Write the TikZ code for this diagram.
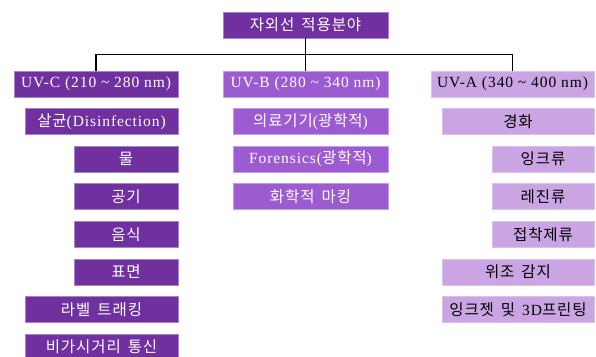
\documentclass[tikz,border=0pt]{standalone}
\usepackage{fontspec}
\setmainfont[LetterSpace=6]{Liberation Serif}
\newfontfamily\krfont[LetterSpace=6]{Noto Sans CJK KR}
\newcommand\K[1]{{\krfont\fontsize{15.5}{17}\selectfont\spaceskip=0.45em\relax #1}}
\definecolor{uvcdark}{HTML}{7030A0}
\definecolor{uvbmid}{HTML}{9D5BD2}
\definecolor{uvalight}{HTML}{CBA4E4}
\begin{document}
\begin{tikzpicture}[x=1pt,y=-1pt,
  box/.style={rectangle, inner sep=0pt, minimum height=26pt, line width=0.6pt,
    font=\fontsize{15.5}{17}\selectfont},
  cbox/.style={box, fill=uvcdark, draw=uvcdark!60!white, text=white},
  bbox/.style={box, fill=uvbmid, draw=uvbmid!60!white, text=white},
  abox/.style={box, fill=uvalight, draw=uvalight!70!white, text=black},
  conn/.style={line width=1.4pt, black}]
\useasboundingbox (0,0) rectangle (596,356);
\fill[white] (0,0) rectangle (596,356);
% top
\node[cbox, minimum width=165pt] (top) at (305.5,25) {\K{자외선 적용분야}};
% UV-C column
\node[cbox, minimum width=164pt] (uvc) at (96,84) {UV-C (210 \textasciitilde{} 280 nm)};
\node[cbox, minimum width=153pt] (c1) at (101.5,121.5) {\K{살균}(Disinfection)};
\node[cbox, minimum width=104pt] (c2) at (126,159) {\K{물}};
\node[cbox, minimum width=104pt] (c3) at (126,196.5) {\K{공기}};
\node[cbox, minimum width=104pt] (c4) at (126,234.5) {\K{음식}};
\node[cbox, minimum width=104pt] (c5) at (126,272) {\K{표면}};
\node[cbox, minimum width=153pt] (c6) at (101.5,309.5) {\K{라벨 트래킹}};
\node[cbox, minimum width=153pt] (c7) at (101.5,347) {\K{비가시거리 통신}};
% UV-B column
\node[bbox, minimum width=165pt] (uvb) at (305.5,84) {UV-B (280 \textasciitilde{} 340 nm)};
\node[bbox, minimum width=155pt] (b1) at (310.5,121.5) {\K{의료기기}(\K{광학적})};
\node[bbox, minimum width=155pt] (b2) at (310.5,159) {Forensics(\K{광학적})};
\node[bbox, minimum width=155pt] (b3) at (310.5,196.5) {\K{화학적 마킹}};
% UV-A column
\node[abox, minimum width=163pt] (uva) at (512.5,84) {UV-A (340 \textasciitilde{} 400 nm)};
\node[abox, minimum width=152pt] (a1) at (518,121.5) {\K{경화}};
\node[abox, minimum width=102pt] (a2) at (543,159) {\K{잉크류}};
\node[abox, minimum width=102pt] (a3) at (543,196.5) {\K{레진류}};
\node[abox, minimum width=102pt] (a4) at (543,234.5) {\K{접착제류}};
\node[abox, minimum width=152pt] (a5) at (518,272) {\K{위조 감지}};
\node[abox, minimum width=152pt] (a6) at (518,309.5) {\K{잉크젯 및 }3D\K{프린팅}};
% connectors
\draw[conn] (top.south) -- (uvb.north);
\draw[conn] (uvc.north) -- ++(0,-16) coordinate (hl) -| (uva.north);
\end{tikzpicture}
\end{document}
